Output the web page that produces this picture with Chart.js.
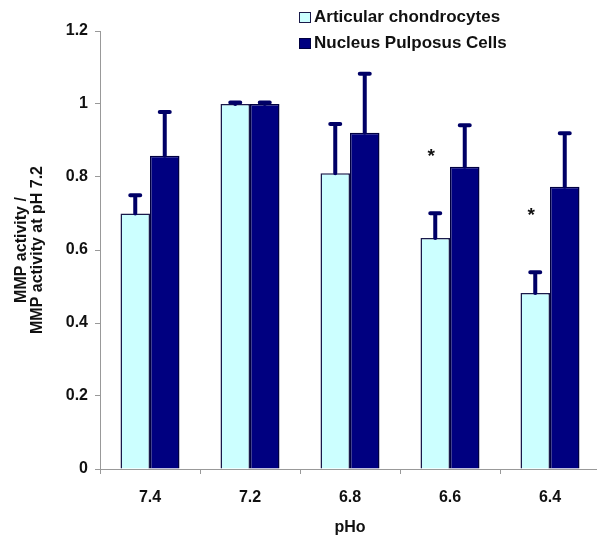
<!DOCTYPE html>
<html>
<head>
<meta charset="utf-8">
<script src="https://cdn.jsdelivr.net/npm/chart.js@4/dist/chart.umd.min.js"></script>
<style>
  html, body { margin: 0; padding: 0; background: #fff; overflow: hidden; }
  #wrap { position: relative; width: 600px; height: 537px; }
  #legend { position: absolute; left: 299px; top: 4px; font-family: "Liberation Sans", Arial, sans-serif; font-weight: bold; font-size: 17px; color: #111; }
  .item { display: flex; align-items: center; height: 26px; }
  .sw { width: 12px; height: 11px; margin-right: 3px; box-sizing: border-box; }
</style>
</head>
<body>
<div id="wrap">
  <canvas id="c" width="600" height="537"></canvas>
  <div id="legend"></div>
</div>
<script>
const categories = ['7.4', '7.2', '6.8', '6.6', '6.4'];
const seriesNames = ['Articular chondrocytes', 'Nucleus Pulposus Cells'];
const articular = [0.70, 1.00, 0.81, 0.633, 0.482];
const articularErr = [0.05, 0.004, 0.135, 0.068, 0.057];
const nucleus = [0.858, 1.00, 0.921, 0.828, 0.773];
const nucleusErr = [0.12, 0.004, 0.162, 0.114, 0.147];
const stars = ['', '', '', '*', '*'];
const yTicks = [0, 0.2, 0.4, 0.6, 0.8, 1, 1.2];

const lightFill = '#CCFFFF';
const darkFill = '#000080';
const navy = '#000066';
const fontFam = '"Liberation Sans", Arial, sans-serif';

// HTML legend
const legendEl = document.getElementById('legend');
[[seriesNames[0], lightFill, '#1a1a4a'], [seriesNames[1], darkFill, '#000040']].forEach(([n, f, b]) => {
  const d = document.createElement('div'); d.className = 'item';
  const s = document.createElement('span'); s.className = 'sw';
  s.style.background = f; s.style.border = '1.5px solid ' + b;
  const t = document.createElement('span'); t.textContent = n;
  d.appendChild(s); d.appendChild(t); legendEl.appendChild(d);
});

const errorBars = {
  id: 'errorBars',
  afterDatasetsDraw(chart) {
    const ctx = chart.ctx, ys = chart.scales.y;
    const errs = [articularErr, nucleusErr];
    ctx.save();
    ctx.strokeStyle = navy; ctx.lineWidth = 4; ctx.lineCap = 'round';
    chart.data.datasets.forEach((ds, i) => {
      const meta = chart.getDatasetMeta(i);
      meta.data.forEach((bar, j) => {
        const top = ys.getPixelForValue(ds.data[j] + errs[i][j]);
        ctx.beginPath();
        ctx.moveTo(bar.x, bar.y); ctx.lineTo(bar.x, top);
        ctx.moveTo(bar.x - 5, top); ctx.lineTo(bar.x + 5, top);
        ctx.stroke();
      });
    });
    // significance stars
    const meta0 = chart.getDatasetMeta(0);
    ctx.fillStyle = '#111'; ctx.font = 'bold 19px ' + fontFam;
    ctx.textAlign = 'center'; ctx.textBaseline = 'middle';
    stars.forEach((s, j) => {
      if (!s) return;
      const bar = meta0.data[j];
      const top = ys.getPixelForValue(articular[j] + articularErr[j]);
      ctx.fillText(s, bar.x - 4, top - 56);
    });
    ctx.restore();
  }
};

new Chart(document.getElementById('c'), {
  type: 'bar',
  data: {
    labels: categories,
    datasets: [
      { label: seriesNames[0], data: articular, backgroundColor: lightFill, borderColor: '#1a1a4a', borderWidth: 1.5, categoryPercentage: 0.59, barPercentage: 1.0 },
      { label: seriesNames[1], data: nucleus, backgroundColor: darkFill, borderColor: '#000040', borderWidth: 1.5, categoryPercentage: 0.59, barPercentage: 1.0 }
    ]
  },
  options: {
    responsive: false,
    animation: false,
    devicePixelRatio: 1,
    layout: { padding: { top: 31, left: 0, right: 0, bottom: 0 } },
    plugins: { legend: { display: false }, tooltip: { enabled: false } },
    scales: {
      x: {
        offset: true,
        grid: { offset: true, drawOnChartArea: false, drawTicks: true, tickLength: 5, color: '#999' },
        border: { color: '#999', width: 1 },
        ticks: { color: '#111', font: { family: fontFam, weight: 'bold', size: 16 }, padding: 14 },
        title: { display: true, text: 'pHo', color: '#111', font: { family: fontFam, weight: 'bold', size: 16 }, padding: { top: 0, bottom: 0 } },
        afterFit(s) { s.height = 68; }
      },
      y: {
        min: 0, max: 1.2,
        afterBuildTicks(s) { s.ticks = yTicks.map(v => ({ value: v })); },
        grid: { drawOnChartArea: false, drawTicks: true, tickLength: 5, color: '#999' },
        border: { color: '#999', width: 1 },
        ticks: { color: '#111', font: { family: fontFam, weight: 'bold', size: 16 }, padding: 7, callback: v => String(v) },
        title: { display: true, text: ['MMP activity /', 'MMP activity at pH 7.2'], color: '#111', font: { family: fontFam, weight: 'bold', size: 16, lineHeight: 1.0 }, padding: { top: 14, bottom: 0 } },
        afterFit(s) { s.width = 100; }
      }
    }
  },
  plugins: [errorBars]
});
</script>
</body>
</html>
